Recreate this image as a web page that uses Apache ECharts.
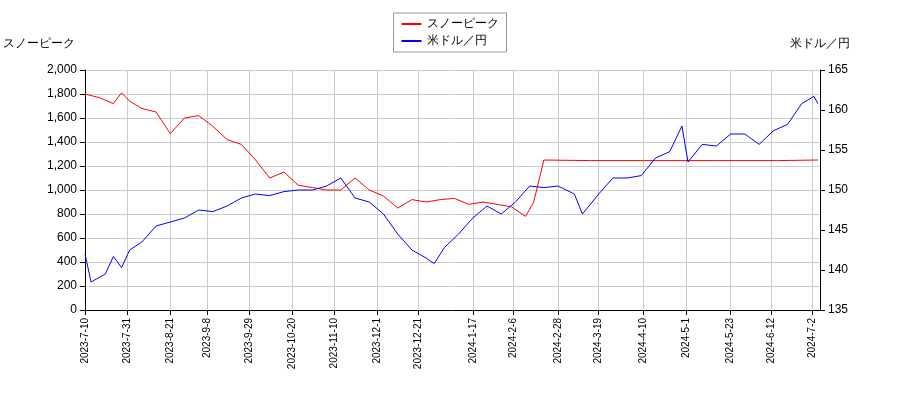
<!DOCTYPE html>
<html><head><meta charset="utf-8">
<script src="https://cdn.jsdelivr.net/npm/echarts@6/dist/echarts.min.js"></script>
<style>body{margin:0}#c{width:900px;height:400px}</style></head>
<body><div id="c"></div>
<script>
const redDates=['2023-07-10','2023-07-17','2023-07-24','2023-07-28','2023-08-01','2023-08-07','2023-08-14','2023-08-21','2023-08-28','2023-09-04','2023-09-11','2023-09-18','2023-09-25','2023-10-02','2023-10-09','2023-10-16','2023-10-23','2023-10-30','2023-11-06','2023-11-13','2023-11-20','2023-11-27','2023-12-04','2023-12-11','2023-12-18','2023-12-25','2024-01-01','2024-01-08','2024-01-15','2024-01-22','2024-01-29','2024-02-05','2024-02-12','2024-02-16','2024-02-21','2024-03-15','2024-04-15','2024-05-15','2024-06-15','2024-07-05'];
const redVals=[1800,1770,1720,1810,1740,1680,1650,1470,1600,1620,1530,1420,1380,1250,1100,1150,1040,1020,1000,1000,1100,1000,950,850,920,900,920,930,880,900,880,860,780,900,1250,1245,1245,1245,1245,1250];
const blueDates=['2023-07-10','2023-07-13','2023-07-20','2023-07-24','2023-07-28','2023-08-01','2023-08-07','2023-08-14','2023-08-21','2023-08-28','2023-09-04','2023-09-11','2023-09-18','2023-09-25','2023-10-02','2023-10-09','2023-10-16','2023-10-23','2023-10-30','2023-11-06','2023-11-13','2023-11-20','2023-11-27','2023-12-04','2023-12-11','2023-12-18','2023-12-25','2023-12-29','2024-01-03','2024-01-10','2024-01-17','2024-01-24','2024-01-31','2024-02-07','2024-02-14','2024-02-21','2024-02-28','2024-03-07','2024-03-11','2024-03-19','2024-03-26','2024-04-02','2024-04-09','2024-04-16','2024-04-23','2024-04-29','2024-05-02','2024-05-09','2024-05-16','2024-05-23','2024-05-30','2024-06-06','2024-06-13','2024-06-20','2024-06-27','2024-07-03','2024-07-05'];
const blueVals=[142,138.5,139.5,141.7,140.3,142.5,143.5,145.5,146,146.5,147.5,147.3,148,149,149.5,149.3,149.8,150,150,150.5,151.5,149,148.5,147,144.5,142.5,141.5,140.8,142.8,144.5,146.5,148,147,148.5,150.5,150.3,150.5,149.5,147,149.5,151.5,151.5,151.8,154,154.8,158,153.5,155.7,155.5,157,157,155.7,157.4,158.2,160.8,161.7,160.8];
const tickDates=['2023-07-10','2023-07-31','2023-08-21','2023-09-08','2023-09-29','2023-10-20','2023-11-10','2023-12-01','2023-12-21','2024-01-17','2024-02-06','2024-02-28','2024-03-19','2024-04-10','2024-05-01','2024-05-23','2024-06-12','2024-07-02'];
const ts=s=>new Date(s+'T00:00:00Z').getTime();
const fmt=v=>{const d=new Date(v);return d.getUTCFullYear()+'-'+(d.getUTCMonth()+1)+'-'+d.getUTCDate();};
const ch=echarts.init(document.getElementById('c'));
ch.setOption({
animation:false,
legend:{top:13,left:'center',orient:'vertical',itemWidth:20,itemHeight:2,borderColor:'#999',borderWidth:1,borderRadius:0,padding:[5,8],itemGap:5,textStyle:{fontSize:12,color:'#000'},data:[{name:'スノーピーク',icon:'rect'},{name:'米ドル／円',icon:'rect'}]},
grid:{left:80,right:80,top:70,bottom:90},
xAxis:{type:'value',min:ts('2023-07-10'),max:ts('2024-07-06'),
 axisLine:{lineStyle:{color:'#000'}},
 axisTick:{customValues:tickDates.map(ts),lineStyle:{color:'#000'}},
 axisLabel:{customValues:tickDates.map(ts),rotate:90,formatter:fmt,color:'#000',fontSize:10},
 splitLine:{show:true,lineStyle:{color:'#ccc'}}},
yAxis:[{type:'value',min:0,max:2000,interval:200,name:'スノーピーク',nameLocation:'end',nameGap:20,nameTextStyle:{color:'#000',align:'right',padding:[0,10,0,0]},
 axisLine:{show:true,lineStyle:{color:'#000'}},axisTick:{show:true},axisLabel:{color:'#000'},splitLine:{lineStyle:{color:'#ccc'}}},
 {type:'value',min:135,max:165,interval:5,name:'米ドル／円',nameLocation:'end',nameGap:20,nameTextStyle:{color:'#000',align:'left',padding:[0,0,0,-30]},
 axisLine:{show:true,lineStyle:{color:'#000'}},axisTick:{show:true},axisLabel:{color:'#000'},splitLine:{show:false}}],
series:[
 {name:'スノーピーク',type:'line',yAxisIndex:0,showSymbol:false,color:'red',lineStyle:{width:1},data:redDates.map((d,i)=>[ts(d),redVals[i]])},
 {name:'米ドル／円',type:'line',yAxisIndex:1,showSymbol:false,color:'blue',lineStyle:{width:1},data:blueDates.map((d,i)=>[ts(d),blueVals[i]])}
]});
</script></body></html>
